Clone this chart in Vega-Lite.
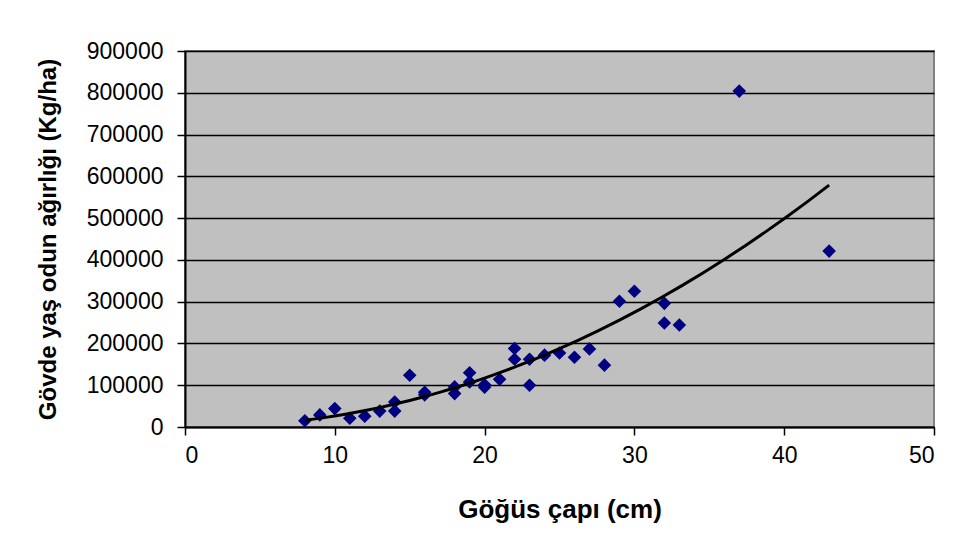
{
  "$schema": "https://vega.github.io/schema/vega-lite/v6.json",
  "width": 749,
  "height": 376,
  "autosize": {"type": "none"},
  "padding": {"left": 185, "top": 51, "right": 24, "bottom": 126},
  "background": "white",
  "config": {
    "font": "Liberation Sans",
    "view": {"fill": "#C0C0C0", "stroke": "#808080", "strokeWidth": 2},
    "axis": {
      "labelFont": "Liberation Sans",
      "titleFont": "Liberation Sans",
      "labelColor": "black",
      "titleColor": "black",
      "domainColor": "black",
      "tickColor": "black",
      "domainWidth": 2,
      "tickWidth": 1.5,
      "tickSize": 8,
      "labelFontSize": 23,
      "titleFontWeight": "bold"
    }
  },
  "data": {
    "values": [
      {"cap": 8, "agirlik": 15000},
      {"cap": 9, "agirlik": 29000},
      {"cap": 10, "agirlik": 44000},
      {"cap": 11, "agirlik": 21000},
      {"cap": 12, "agirlik": 26000},
      {"cap": 13, "agirlik": 38000},
      {"cap": 14, "agirlik": 60000},
      {"cap": 14, "agirlik": 38000},
      {"cap": 15, "agirlik": 124000},
      {"cap": 16, "agirlik": 83000},
      {"cap": 16, "agirlik": 77000},
      {"cap": 18, "agirlik": 96000},
      {"cap": 18, "agirlik": 80000},
      {"cap": 19, "agirlik": 130000},
      {"cap": 19, "agirlik": 108000},
      {"cap": 20, "agirlik": 101000},
      {"cap": 20, "agirlik": 95000},
      {"cap": 21, "agirlik": 114000},
      {"cap": 22, "agirlik": 188000},
      {"cap": 22, "agirlik": 162000},
      {"cap": 23, "agirlik": 162000},
      {"cap": 23, "agirlik": 100000},
      {"cap": 24, "agirlik": 172000},
      {"cap": 25, "agirlik": 177000},
      {"cap": 26, "agirlik": 167000},
      {"cap": 27, "agirlik": 187000},
      {"cap": 28, "agirlik": 148000},
      {"cap": 29, "agirlik": 301000},
      {"cap": 30, "agirlik": 325000},
      {"cap": 32, "agirlik": 296000},
      {"cap": 32, "agirlik": 249000},
      {"cap": 33, "agirlik": 244000},
      {"cap": 37, "agirlik": 804000},
      {"cap": 43, "agirlik": 421000}
    ]
  },
  "layer": [
    {
      "mark": {"type": "point", "shape": "diamond", "filled": true, "size": 185, "color": "#000080", "opacity": 1},
      "encoding": {
        "x": {
          "field": "cap", "type": "quantitative",
          "scale": {"domain": [0, 50], "nice": false, "zero": true},
          "axis": {"title": "Göğüs çapı (cm)", "titleFontSize": 26, "values": [0, 10, 20, 30, 40, 50], "grid": false, "labelPadding": 9, "titlePadding": 29, "format": "d"}
        },
        "y": {
          "field": "agirlik", "type": "quantitative",
          "scale": {"domain": [0, 900000], "nice": false},
          "axis": {
            "title": "Gövde yaş odun ağırlığı (Kg/ha)",
            "titleFontSize": 24,
            "values": [0, 100000, 200000, 300000, 400000, 500000, 600000, 700000, 800000, 900000],
            "format": "d", "grid": true, "gridColor": "black", "gridWidth": 1.5, "gridOpacity": 1,
            "labelPadding": 14, "titlePadding": 26
          }
        }
      }
    },
    {
      "transform": [{"regression": "agirlik", "on": "cap", "method": "poly", "order": 2}],
      "mark": {"type": "line", "color": "black", "strokeWidth": 3},
      "encoding": {
        "x": {"field": "cap", "type": "quantitative"},
        "y": {"field": "agirlik", "type": "quantitative"}
      }
    }
  ]
}
